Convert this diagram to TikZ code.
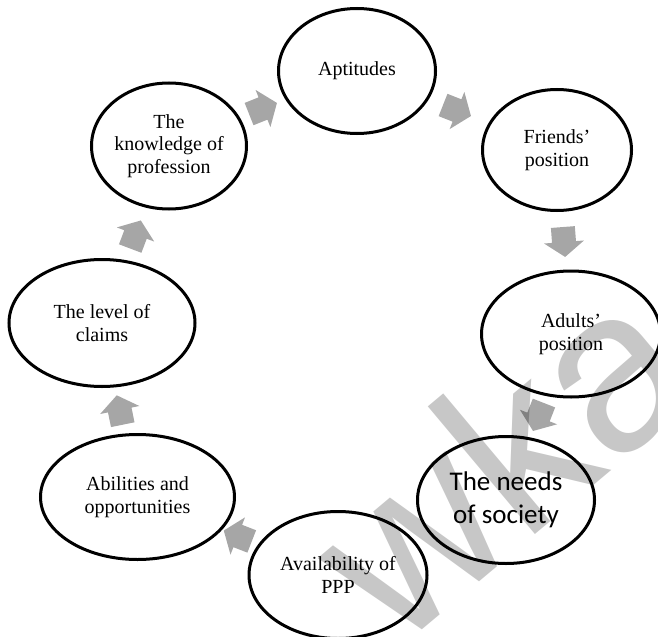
\documentclass[tikz,border=0pt]{standalone}
\usepackage{fontspec}
\setmainfont{Liberation Serif}
\newfontfamily\labelsans{Carlito}
\newfontfamily\markfont{Liberation Sans}
\usetikzlibrary{shapes.geometric,calc,backgrounds}
\definecolor{arrowgrey}{RGB}{166,166,166}
\begin{document}
\begin{tikzpicture}[x=1bp,y=-1bp,
  stage/.style={ellipse, draw=black, line width=3bp, fill=white, inner sep=0pt,
    align=center, font=\fontsize{20bp}{22.5bp}\selectfont},
  flowarrow/.pic={\fill[arrowgrey] (-15,-12) -- (0,-12) -- (0,-20) -- (15,0)
    -- (0,20) -- (0,12) -- (-15,12) -- cycle;}]
\useasboundingbox (0,0) rectangle (658,637);
\clip (0,0) rectangle (658,637);

% stages of the cycle
\node[stage, minimum width=157bp, minimum height=125bp] (apt) at (357,71) {Aptitudes};
\node[stage, minimum width=149bp, minimum height=121bp] (fri) at (557,150) {Friends’\\position};
\node[stage, minimum width=179bp, minimum height=126bp] (adu) at (571,334) {Adults’\\position};
\node[stage, minimum width=177bp, minimum height=127bp,
      font=\labelsans\fontsize{27bp}{33bp}\selectfont] (soc) at (506,500) {The needs\\of society};
\node[stage, minimum width=178bp, minimum height=127bp] (ppp) at (338,575) {Availability of\\PPP};
\node[stage, minimum width=194bp, minimum height=125bp] (abi) at (137.5,497) {Abilities and\\opportunities};
\node[stage, minimum width=186bp, minimum height=127bp] (lev) at (102,323) {The level of\\claims};
\node[stage, minimum width=155bp, minimum height=126bp] (kno) at (169,146) {The\\knowledge of\\profession};

% block arrows half way between consecutive stages, behind the ellipses
\begin{scope}[on background layer]
  \foreach \from/\to in {kno/apt, apt/fri, fri/adu, adu/soc, ppp/abi, abi/lev, lev/kno}{
    \path let \p1=(\from.center), \p2=(\to.center),
              \n1={atan2(\y2-\y1,\x2-\x1)} in
      pic[rotate=\n1] at ($(\p1)!0.5!(\p2)$) {flowarrow};
  }
\end{scope}

% watermark lettering laid over the diagram
\node[rotate=40, text=black, text opacity=0.22, inner sep=0pt,
      font=\markfont\fontsize{230bp}{230bp}\selectfont] (mark) at (500,457) {wka};
\end{tikzpicture}
\end{document}
